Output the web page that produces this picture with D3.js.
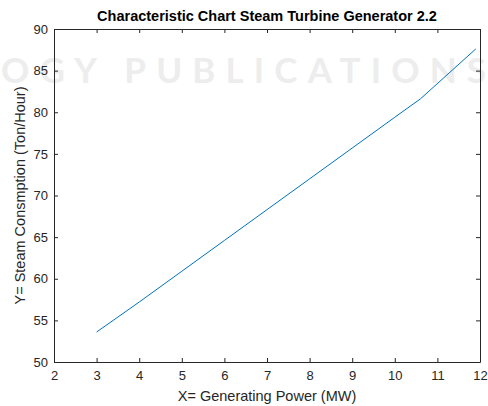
<!DOCTYPE html>
<html>
<head>
<meta charset="utf-8">
<script src="https://cdn.jsdelivr.net/npm/d3@7"></script>
<style>
  body { margin: 0; background: #fff; }
  text { font-family: "Liberation Sans", Arial, sans-serif; }
</style>
</head>
<body>
<script>
// Steam consumption readings
var powerMW = [3, 4, 5, 6, 7, 8, 9, 10, 10.6, 11.9];
var steamTon = [53.6, 57.2, 60.9, 64.6, 68.3, 72.0, 75.7, 79.4, 81.6, 87.6];
var xTicks = [2, 3, 4, 5, 6, 7, 8, 9, 10, 11, 12];
var yTicks = [50, 55, 60, 65, 70, 75, 80, 85, 90];

var svgW = 488, svgH = 406;
var margin = {top: 29, right: 8, bottom: 44, left: 54};
var axisColor = '#262626';

var svg = d3.select('body').append('svg').attr('width', svgW).attr('height', svgH);

// faint publisher watermark behind the plot
svg.append('text').attr('x', 1).attr('y', 83)
  .attr('font-size', 35).attr('fill', '#ededed')
  .attr('textLength', 485).attr('lengthAdjust', 'spacing')
  .style('font-family', 'Lato, sans-serif').style('font-weight', 'bold')
  .text('OGY PUBLICATIONS');

var x = d3.scaleLinear().domain([2, 12]).range([margin.left, svgW - margin.right]);
var y = d3.scaleLinear().domain([50, 90]).range([svgH - margin.bottom, margin.top]);

var tickLen = 4;
function styleAxis(g){
  g.selectAll('path').attr('stroke', axisColor);
  g.selectAll('line').attr('stroke', axisColor);
  g.selectAll('text').attr('fill', axisColor).attr('font-size', 13);
}

// bottom and left axes with inward ticks
svg.append('g').attr('transform', 'translate(0,' + y(50) + ')')
  .call(d3.axisBottom(x).tickValues(xTicks).tickSizeInner(-tickLen).tickSizeOuter(0).tickPadding(9))
  .call(styleAxis);
svg.append('g').attr('transform', 'translate(' + x(2) + ',0)')
  .call(d3.axisLeft(y).tickValues(yTicks).tickSizeInner(-tickLen).tickSizeOuter(0).tickPadding(6))
  .call(styleAxis);
// top and right box edges
svg.append('g').attr('transform', 'translate(0,' + y(90) + ')')
  .call(d3.axisTop(x).tickValues(xTicks).tickSizeInner(-tickLen).tickSizeOuter(0).tickFormat(''))
  .call(styleAxis);
svg.append('g').attr('transform', 'translate(' + x(12) + ',0)')
  .call(d3.axisRight(y).tickValues(yTicks).tickSizeInner(-tickLen).tickSizeOuter(0).tickFormat(''))
  .call(styleAxis);

var line = d3.line()
  .x(function(d, i){ return x(powerMW[i]); })
  .y(function(d){ return y(d); });

svg.append('path').datum(steamTon)
  .attr('d', line).attr('fill', 'none')
  .attr('stroke', '#0072BD').attr('stroke-width', 1);

// title and axis labels
svg.append('text').attr('x', (x(2) + x(12)) / 2).attr('y', 21)
  .attr('text-anchor', 'middle').attr('font-size', 14.5).attr('font-weight', 'bold')
  .attr('fill', '#000').text('Characteristic Chart Steam Turbine Generator 2.2');

svg.append('text').attr('x', (x(2) + x(12)) / 2).attr('y', 401)
  .attr('text-anchor', 'middle').attr('font-size', 14.5).attr('fill', axisColor)
  .text('X= Generating Power (MW)');

svg.append('text')
  .attr('transform', 'translate(25,' + (y(50) + y(90)) / 2 + ') rotate(-90)')
  .attr('text-anchor', 'middle').attr('font-size', 14.5).attr('fill', axisColor)
  .text('Y= Steam Consmption (Ton/Hour)');
</script>
</body>
</html>
